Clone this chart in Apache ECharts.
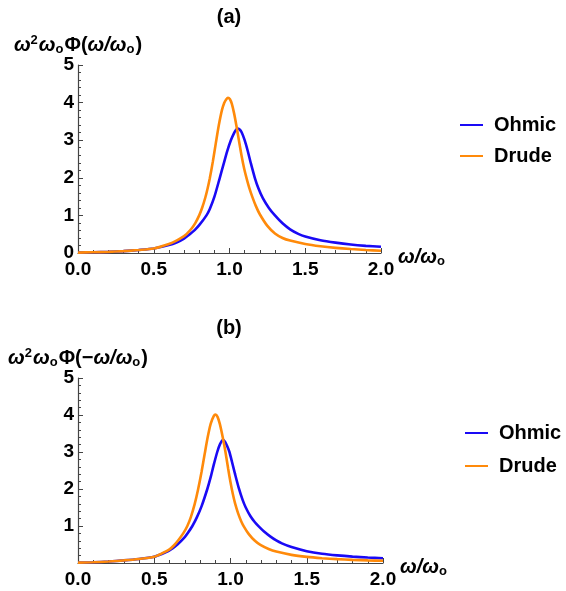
<!DOCTYPE html>
<html>
<head>
<meta charset="utf-8">
<script src="https://cdn.jsdelivr.net/npm/echarts@6/dist/echarts.min.js"></script>
<style>html,body{margin:0;padding:0;background:#fff}#c{width:566px;height:591px}</style>
</head>
<body>
<div id="c"></div>
<script>
// ---- data ----
const xTicks = [0.0, 0.5, 1.0, 1.5, 2.0];
const yTicks = [0, 1, 2, 3, 4, 5];

// panel (a)
const aOhmicX = [0,0.1,0.2,0.3,0.4,0.5,0.6,0.65,0.7,0.738,0.77,0.8,0.848,0.87,0.9,0.936,0.96,0.985,1.009,1.03,1.042,1.053,1.065,1.08,1.1,1.12,1.14,1.167,1.19,1.22,1.26,1.3,1.35,1.4,1.454,1.5,1.6,1.7,1.8,1.9,2.0];
const aOhmicY = [0.01,0.02,0.03,0.05,0.08,0.12,0.21,0.28,0.385,0.50,0.61,0.74,1.00,1.17,1.49,2.00,2.35,2.71,3.00,3.19,3.27,3.31,3.29,3.21,3.00,2.72,2.40,2.00,1.73,1.46,1.20,1.00,0.79,0.63,0.51,0.44,0.34,0.275,0.225,0.19,0.165];
const aDrudeX = [0,0.1,0.2,0.3,0.4,0.5,0.6,0.65,0.7,0.716,0.75,0.775,0.8,0.82,0.84,0.855,0.87,0.89,0.91,0.93,0.95,0.965,0.978,0.99,1.003,1.015,1.03,1.045,1.062,1.08,1.097,1.112,1.13,1.15,1.175,1.2,1.25,1.3,1.35,1.4,1.5,1.6,1.7,1.8,1.9,2.0];
const aDrudeY = [0.01,0.02,0.03,0.05,0.08,0.12,0.24,0.33,0.45,0.50,0.65,0.80,1.00,1.21,1.47,1.71,1.99,2.43,2.93,3.41,3.80,3.99,4.085,4.13,4.09,3.97,3.72,3.40,3.00,2.58,2.24,2.00,1.74,1.50,1.24,1.03,0.72,0.52,0.40,0.33,0.24,0.18,0.137,0.105,0.08,0.06];

// panel (b)
const bOhmicX = [0,0.1,0.2,0.3,0.4,0.5,0.55,0.6,0.652,0.7,0.72,0.75,0.78,0.81,0.848,0.87,0.89,0.913,0.93,0.95,0.965,0.98,0.993,1.01,1.03,1.054,1.08,1.1,1.13,1.16,1.185,1.22,1.26,1.3,1.337,1.4,1.5,1.6,1.7,1.8,1.9,2.0];
const bOhmicY = [0.01,0.02,0.04,0.07,0.11,0.17,0.245,0.34,0.50,0.70,0.81,1.00,1.24,1.53,2.00,2.32,2.65,3.00,3.20,3.32,3.27,3.14,3.00,2.73,2.40,2.03,1.70,1.50,1.27,1.10,0.99,0.85,0.72,0.61,0.53,0.43,0.32,0.25,0.205,0.172,0.148,0.13];
const bDrudeX = [0,0.1,0.2,0.3,0.4,0.5,0.55,0.6,0.63,0.66,0.69,0.717,0.74,0.765,0.787,0.81,0.83,0.85,0.87,0.89,0.902,0.915,0.93,0.95,0.967,0.985,1.0,1.015,1.03,1.05,1.07,1.087,1.12,1.16,1.196,1.25,1.3,1.4,1.5,1.6,1.7,1.8,1.9,2.0];
const bDrudeY = [0.01,0.02,0.04,0.07,0.11,0.17,0.26,0.37,0.48,0.63,0.80,1.00,1.24,1.59,1.98,2.46,2.93,3.39,3.76,3.97,4.01,3.95,3.76,3.38,3.00,2.54,2.18,1.87,1.61,1.34,1.13,0.99,0.78,0.60,0.49,0.38,0.31,0.22,0.165,0.13,0.105,0.085,0.07,0.06];

const seriesNames = ['Ohmic', 'Drude'];
const panelTitles = ['(a)', '(b)'];

const zip = (xs, ys) => xs.map((x, i) => [x, ys[i]]);

const FONT = 'Liberation Sans, Arial, sans-serif';
const BLUE = '#1a0af5';
const ORANGE = '#ff8a0a';
const AX = '#444';
const FS = 19;

const rich = {
  w: {fontFamily: FONT, fontWeight: 'bold', fontSize: 20, fontStyle: 'italic', color: '#000'},
  n: {fontFamily: FONT, fontWeight: 'bold', fontSize: 20, color: '#000'},
  sup: {fontFamily: FONT, fontWeight: 'bold', fontSize: 13, color: '#000', padding: [0, 1, 9, 0]},
  sub: {fontFamily: FONT, fontWeight: 'bold', fontSize: 13, color: '#000', padding: [8, 1, 0, 0]}
};

function xAxis(gi) {
  return {
    type: 'value', gridIndex: gi, min: 0, max: 2, interval: 0.5,
    name: '{w|ω/ω}{sub|o}', nameLocation: 'end', nameGap: 6,
    nameTextStyle: {rich: rich, verticalAlign: 'middle', padding: [8, 0, 0, 0]},
    axisLine: {show: true, lineStyle: {color: AX, width: 1.2}},
    axisTick: {show: true, inside: true, length: 5, lineStyle: {color: AX}},
    minorTick: {show: true, splitNumber: 5, length: 3, lineStyle: {color: AX}},
    splitLine: {show: false},
    axisLabel: {fontFamily: FONT, fontWeight: 'bold', fontSize: FS, color: '#000', margin: 7,
      formatter: v => v.toFixed(1)}
  };
}
function yAxis(gi, name, showZero) {
  return {
    type: 'value', gridIndex: gi, min: 0, max: 5, interval: 1,
    name: name, nameLocation: 'end', nameGap: 20,
    nameTextStyle: {rich: rich, align: 'center', verticalAlign: 'middle'},
    axisLine: {show: true, lineStyle: {color: AX, width: 1.2}},
    axisTick: {show: true, inside: true, length: 5, lineStyle: {color: AX}},
    minorTick: {show: true, splitNumber: 5, length: 3, lineStyle: {color: AX}},
    splitLine: {show: false},
    axisLabel: {fontFamily: FONT, fontWeight: 'bold', fontSize: FS, color: '#000', margin: 4,
      formatter: v => (v === 0 && !showZero) ? '' : String(v)}
  };
}
function line(name, data, gi, color) {
  return {
    type: 'line', name: name, xAxisIndex: gi, yAxisIndex: gi, data: data,
    smooth: 0.25, showSymbol: false, symbol: 'none', animation: false,
    lineStyle: {color: color, width: 2.6}, itemStyle: {color: color}, z: name === 'Drude' ? 3 : 2
  };
}
function legend(left, top, gap) {
  return {
    orient: 'vertical', left: left, top: top, itemGap: gap, padding: 0,
    itemWidth: 23, itemHeight: 2, icon: 'rect', data: seriesNames,
    selectedMode: false,
    textStyle: {fontFamily: FONT, fontWeight: 'bold', fontSize: 20, color: '#000', padding: [0, 0, 0, 6]}
  };
}

const chart = echarts.init(document.getElementById('c'), null, {renderer: 'canvas'});
chart.setOption({
  backgroundColor: '#fff',
  animation: false,
  grid: [
    {left: 78, top: 65, width: 303, height: 188},
    {left: 78, top: 378, width: 305, height: 185}
  ],
  xAxis: [xAxis(0), xAxis(1)],
  yAxis: [
    yAxis(0, '{w|ω}{sup|2}{w|ω}{sub|o}{n|Φ(}{w|ω/ω}{sub|o}{n|)}', true),
    yAxis(1, '{w|ω}{sup|2}{w|ω}{sub|o}{n|Φ(−}{w|ω/ω}{sub|o}{n|)}', false)
  ],
  legend: [legend(460, 115, 11), legend(465, 423, 13)],
  graphic: [
    {type: 'text', x: 229, y: 17, style: {text: panelTitles[0], font: 'bold 20px ' + FONT, fill: '#000', align: 'center', verticalAlign: 'middle', textAlign: 'center', textVerticalAlign: 'middle'}},
    {type: 'text', x: 229, y: 328, style: {text: panelTitles[1], font: 'bold 20px ' + FONT, fill: '#000', align: 'center', verticalAlign: 'middle', textAlign: 'center', textVerticalAlign: 'middle'}}
  ],
  series: [
    line(seriesNames[0], zip(aOhmicX, aOhmicY), 0, BLUE),
    line(seriesNames[1], zip(aDrudeX, aDrudeY), 0, ORANGE),
    line(seriesNames[0], zip(bOhmicX, bOhmicY), 1, BLUE),
    line(seriesNames[1], zip(bDrudeX, bDrudeY), 1, ORANGE)
  ]
});
</script>
</body>
</html>
